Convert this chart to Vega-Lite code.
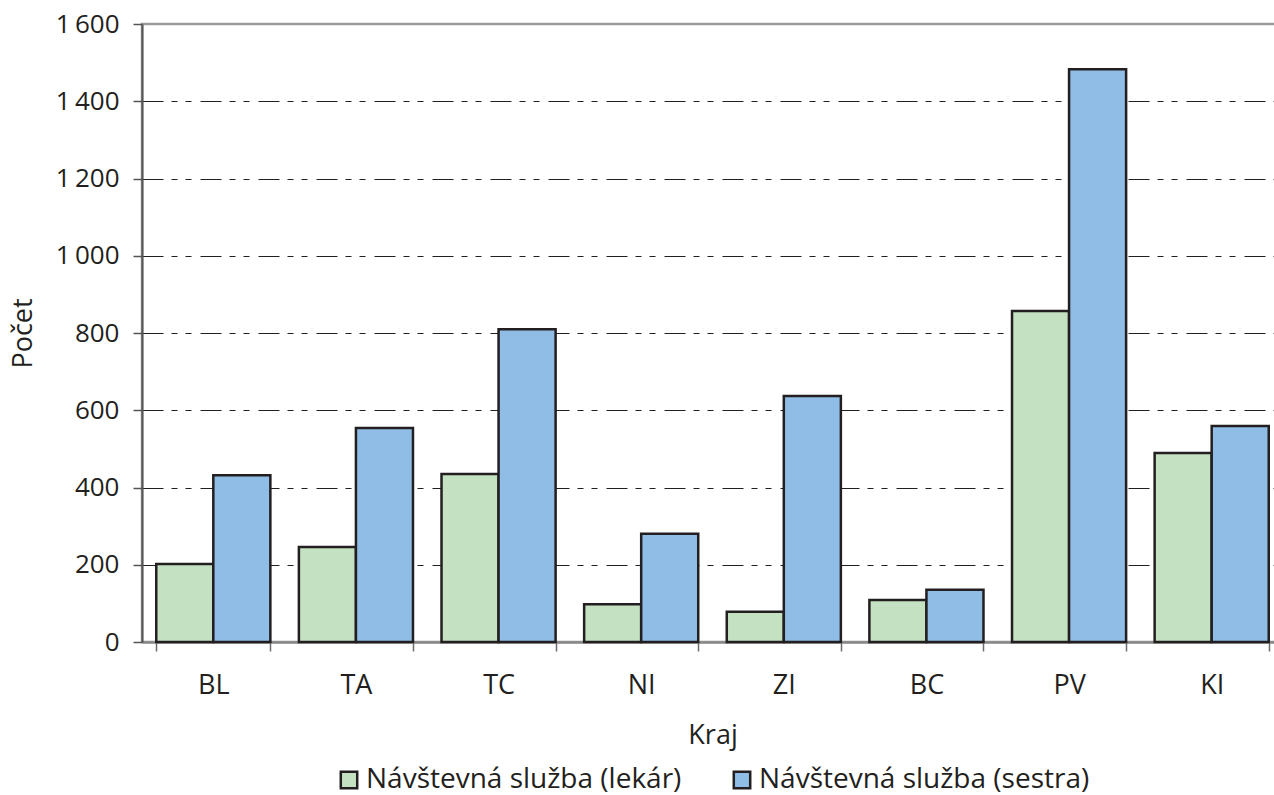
{
  "$schema": "https://vega.github.io/schema/vega-lite/v6.json",
  "width": 1141,
  "height": 618,
  "autosize": {"type": "none"},
  "padding": {"left": 142, "top": 24, "right": 0, "bottom": 153},
  "config": {
    "font": "Open Sans",
    "view": {"stroke": "#9a9a9a", "strokeWidth": 2.5},
    "axis": {"labelColor": "#231f20", "titleColor": "#231f20", "labelFontWeight": "normal", "titleFontWeight": "normal"},
    "legend": {"layout": {"bottom": {"anchor": "middle"}}}
  },
  "data": {
    "values": [
      {"kraj": "BL", "sluzba": "Návštevná služba (lekár)", "pocet": 202},
      {"kraj": "BL", "sluzba": "Návštevná služba (sestra)", "pocet": 432},
      {"kraj": "TA", "sluzba": "Návštevná služba (lekár)", "pocet": 246},
      {"kraj": "TA", "sluzba": "Návštevná služba (sestra)", "pocet": 554},
      {"kraj": "TC", "sluzba": "Návštevná služba (lekár)", "pocet": 435},
      {"kraj": "TC", "sluzba": "Návštevná služba (sestra)", "pocet": 810},
      {"kraj": "NI", "sluzba": "Návštevná služba (lekár)", "pocet": 98},
      {"kraj": "NI", "sluzba": "Návštevná služba (sestra)", "pocet": 280},
      {"kraj": "ZI", "sluzba": "Návštevná služba (lekár)", "pocet": 78},
      {"kraj": "ZI", "sluzba": "Návštevná služba (sestra)", "pocet": 637},
      {"kraj": "BC", "sluzba": "Návštevná služba (lekár)", "pocet": 109},
      {"kraj": "BC", "sluzba": "Návštevná služba (sestra)", "pocet": 135},
      {"kraj": "PV", "sluzba": "Návštevná služba (lekár)", "pocet": 857},
      {"kraj": "PV", "sluzba": "Návštevná služba (sestra)", "pocet": 1483},
      {"kraj": "KI", "sluzba": "Návštevná služba (lekár)", "pocet": 489},
      {"kraj": "KI", "sluzba": "Návštevná služba (sestra)", "pocet": 559}
    ]
  },
  "mark": {"type": "bar", "stroke": "#231f20", "strokeWidth": 2.5},
  "encoding": {
    "x": {
      "field": "kraj",
      "type": "nominal",
      "sort": ["BL", "TA", "TC", "NI", "ZI", "BC", "PV", "KI"],
      "scale": {"paddingInner": 0.2, "paddingOuter": 0.1},
      "axis": {
        "title": "Kraj",
        "labelAngle": 0,
        "labelFontSize": 27,
        "labelPadding": 21,
        "titleFontSize": 27,
        "titlePadding": 24,
        "tickBand": "extent",
        "tickSize": 9,
        "tickColor": "#6b6b6b",
        "tickWidth": 1.5,
        "domainColor": "#8a8a8a",
        "domainWidth": 2.5,
        "grid": false
      }
    },
    "xOffset": {"field": "sluzba", "type": "nominal"},
    "y": {
      "field": "pocet",
      "type": "quantitative",
      "scale": {"domain": [0, 1600], "nice": false},
      "axis": {
        "title": "Počet",
        "values": [0, 200, 400, 600, 800, 1000, 1200, 1400, 1600],
        "labelExpr": "datum.value >= 1000 ? '1\u2009' + substring(toString(datum.value), 1) : datum.label",
        "labelFontSize": 26,
        "labelPadding": 14,
        "titleFontSize": 27,
        "titlePadding": 18,
        "tickSize": 9,
        "tickColor": "#555555",
        "tickWidth": 1.5,
        "domainColor": "#555555",
        "domainWidth": 2,
        "grid": true,
        "gridColor": "#231f20",
        "gridWidth": 1.2,
        "gridDash": [21, 8, 6, 8, 6, 9],
        "gridOpacity": {"condition": {"test": "datum.value == 1600", "value": 0}, "value": 1}
      }
    },
    "color": {
      "field": "sluzba",
      "type": "nominal",
      "scale": {
        "domain": ["Návštevná služba (lekár)", "Návštevná služba (sestra)"],
        "range": ["#c4e2c1", "#8fbde6"]
      },
      "legend": {
        "title": null,
        "orient": "bottom",
        "direction": "horizontal",
        "symbolType": "square",
        "symbolSize": 270,
        "symbolStrokeColor": "#231f20",
        "symbolStrokeWidth": 2.5,
        "labelFontSize": 28,
        "labelColor": "#231f20",
        "labelLimit": 420,
        "labelOffset": 3,
        "columnPadding": 46,
        "offset": 18
      }
    }
  }
}
